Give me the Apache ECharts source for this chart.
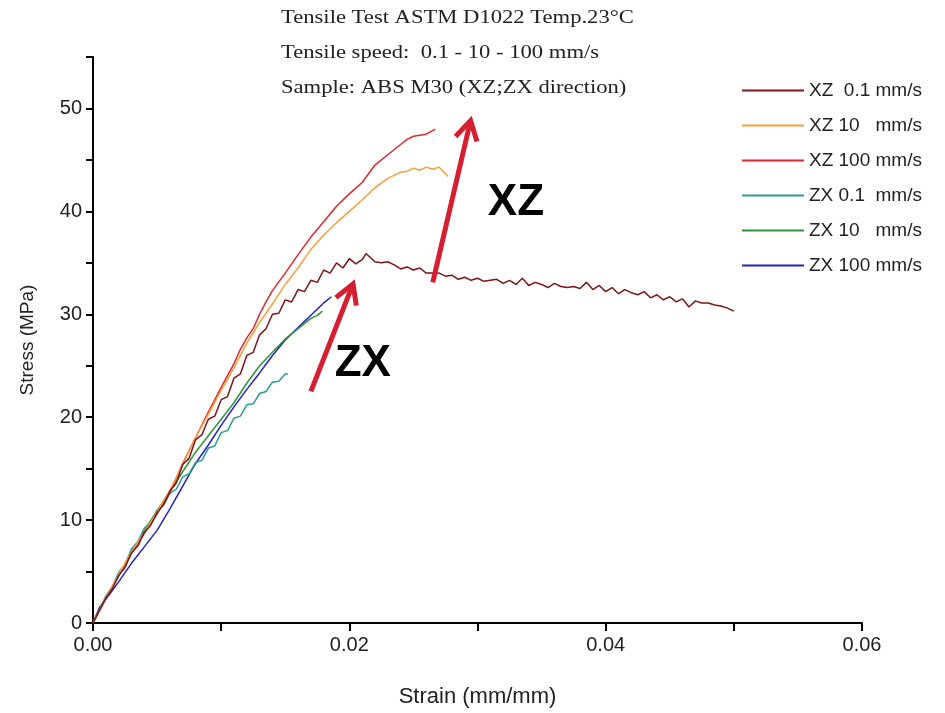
<!DOCTYPE html>
<html>
<head>
<meta charset="utf-8">
<script src="https://cdn.jsdelivr.net/npm/echarts@6/dist/echarts.min.js"></script>
<style>html,body{margin:0;padding:0;background:#fff;overflow:hidden}#c{width:100vw;height:100vh}</style>
</head>
<body>
<div id="c"></div>
<script>
const titleLines = ['Tensile Test ASTM D1022 Temp.23°C', 'Tensile speed:  0.1 - 10 - 100 mm/s', 'Sample: ABS M30 (XZ;ZX direction)'];
const seriesNames = ['XZ  0.1 mm/s', 'XZ 10   mm/s', 'XZ 100 mm/s', 'ZX 0.1  mm/s', 'ZX 10   mm/s', 'ZX 100 mm/s'];
const seriesColors = ['#7D1518', '#F5A03A', '#E2262B', '#2A9C94', '#2E9436', '#2222C0'];
const xName = 'Strain (mm/mm)';
const yName = 'Stress (MPa)';

const xz01 = [
[0,0],[0.0005,1.2],[0.001,2.4],[0.0015,3.3],[0.002,4.6],[0.0025,5.4],[0.003,6.8],[0.0035,7.5],[0.004,8.8],[0.0045,9.5],
[0.005,10.7],[0.0055,11.5],[0.006,12.8],[0.0065,13.6],[0.007,15.4],[0.0075,16.0],[0.008,17.8],[0.0085,18.3],[0.009,19.8],[0.0095,20.1],
[0.010,21.7],[0.0105,22.0],[0.011,23.8],[0.0115,24.2],[0.012,26.0],[0.0125,26.3],[0.013,28.0],[0.0135,28.6],[0.014,30.0],[0.0145,30.1],
[0.015,31.4],[0.0155,31.2],[0.016,32.4],[0.0165,32.2],[0.017,33.3],[0.0175,33.1],[0.018,34.3],[0.0185,34.0],[0.019,35.0],[0.0195,34.5],
[0.020,35.4],[0.0205,34.9],[0.021,35.3],[0.0213,35.9],[0.022,35.1],[0.0225,35.0],[0.023,35.1],[0.0235,34.8],[0.024,34.4],[0.0245,34.6],
[0.025,34.3],[0.0255,34.5],[0.026,34.0],[0.027,34.0],[0.0275,33.7],[0.028,33.8],[0.0285,33.4],[0.029,33.6],[0.0295,33.3],[0.030,33.5],
[0.0305,33.2],[0.031,33.3],[0.0315,33.4],[0.032,33.0],[0.0325,33.3],[0.033,32.9],[0.0335,33.5],[0.034,32.8],[0.0345,33.1],[0.035,32.9],
[0.0355,32.6],[0.036,33.0],[0.0365,32.7],[0.037,32.6],[0.0375,32.7],[0.038,32.5],[0.0385,33.1],[0.039,32.4],[0.0395,32.8],[0.040,32.2],
[0.0405,32.6],[0.041,32.0],[0.0415,32.4],[0.042,32.1],[0.0425,31.9],[0.043,32.2],[0.0435,31.6],[0.044,31.9],[0.0445,31.4],[0.045,31.7],
[0.0455,31.2],[0.046,31.5],[0.0465,30.7],[0.047,31.3],[0.0475,31.1],[0.048,31.1],[0.0485,30.9],[0.049,30.8],[0.0495,30.6],[0.050,30.3]
];
const xz10 = [
[0,0],[0.001,2.4],[0.002,4.7],[0.003,6.9],[0.004,8.8],[0.005,10.8],[0.006,12.9],[0.007,15.4],[0.008,18.0],[0.009,20.3],
[0.010,22.6],[0.011,24.8],[0.012,27.2],[0.013,29.2],[0.014,31.0],[0.015,32.9],[0.016,34.5],[0.017,36.3],[0.018,37.7],[0.019,38.9],
[0.020,40.0],[0.021,41.1],[0.022,42.3],[0.023,43.2],[0.024,43.8],[0.0245,43.9],[0.025,44.2],[0.0255,44.0],[0.026,44.3],[0.0265,44.1],
[0.027,44.3],[0.0273,43.9],[0.0277,43.4]
];
const xz100 = [
[0,0],[0.001,2.4],[0.002,4.6],[0.003,6.8],[0.004,8.7],[0.005,10.6],[0.006,12.7],[0.007,15.5],[0.008,18.0],[0.009,20.5],
[0.010,22.9],[0.011,25.2],[0.0115,26.6],[0.012,27.7],[0.0125,28.6],[0.013,30.0],[0.0135,31.2],[0.014,32.3],[0.015,34.0],[0.016,35.8],
[0.017,37.5],[0.018,39.0],[0.019,40.5],[0.020,41.7],[0.021,42.8],[0.022,44.5],[0.023,45.5],[0.024,46.5],[0.0245,47.0],[0.025,47.3],
[0.0255,47.4],[0.026,47.5],[0.0267,48.0]
];
const zx01 = [
[0,0],[0.0005,1.3],[0.001,2.6],[0.0015,3.5],[0.002,4.9],[0.0025,5.7],[0.003,7.2],[0.0035,7.9],[0.004,9.2],[0.0045,9.8],
[0.005,11.0],[0.0055,11.4],[0.006,12.6],[0.0065,13.0],[0.007,14.2],[0.0075,14.5],[0.008,15.6],[0.0085,15.8],[0.009,17.0],[0.0095,17.2],
[0.010,18.5],[0.0105,18.7],[0.011,19.9],[0.0115,20.1],[0.012,21.2],[0.0125,21.3],[0.013,22.3],[0.0135,22.5],[0.014,23.4],[0.0145,23.5],
[0.015,24.2],[0.0152,24.2]
];
const zx10 = [
[0,0],[0.001,2.5],[0.002,4.6],[0.003,6.8],[0.004,9.0],[0.005,10.9],[0.006,12.8],[0.007,14.7],[0.008,16.6],[0.009,18.2],
[0.010,19.8],[0.011,21.4],[0.012,23.3],[0.013,25.0],[0.014,26.3],[0.015,27.6],[0.016,28.6],[0.017,29.6],[0.0175,29.9],[0.0179,30.3]
];
const zx100 = [
[0,0],[0.0005,1.5],[0.001,2.3],[0.002,4.0],[0.003,5.8],[0.004,7.4],[0.005,9.0],[0.006,11.1],[0.007,13.3],[0.008,15.5],
[0.009,17.3],[0.010,19.2],[0.011,21.0],[0.012,22.7],[0.013,24.3],[0.014,26.0],[0.015,27.5],[0.016,28.7],[0.017,29.9],[0.018,31.1],
[0.0186,31.7]
];
const seriesData = [xz01, xz10, xz100, zx01, zx10, zx100];

// annotation arrows [x tail, y tail, x tip, y tip] and text labels (data coords)
const arrows = [[0.0170, 22.5, 0.02043, 33.4], [0.02651, 33.1, 0.02955, 49.3]];
const labels = [['XZ', 0.0330, 40.8], ['ZX', 0.02105, 25.2]];

const chart = echarts.init(document.getElementById('c'), null, {renderer: 'canvas'});
const font = 'Liberation Sans, Arial, sans-serif';
const serif = '"Liberation Serif", "Times New Roman", serif';
const arrowColor = '#D51F31';

const series = seriesNames.map((n, i) => ({
  name: n, type: 'line', data: seriesData[i], symbol: 'none', showSymbol: false,
  lineStyle: {color: seriesColors[i], width: 1.5}, itemStyle: {color: seriesColors[i]},
  z: 3 + (5 - i), animation: false
}));
series.push({
  name: 'arrows', type: 'custom', data: arrows, encode: {x: [0, 2], y: [1, 3]},
  silent: true, animation: false, z: 10,
  renderItem: (params, api) => {
    const p1 = api.coord([api.value(0), api.value(1)]);
    const p2 = api.coord([api.value(2), api.value(3)]);
    const dx = p2[0] - p1[0], dy = p2[1] - p1[1], L = Math.hypot(dx, dy);
    const ux = dx / L, uy = dy / L, px = -uy, py = ux;
    const t = [p2[0] - ux * 5, p2[1] - uy * 5];
    const back = 19, half = 11;
    const a = [t[0] - ux * back + px * half, t[1] - uy * back + py * half];
    const b = [t[0] - ux * back - px * half, t[1] - uy * back - py * half];
    return {type: 'group', children: [
      {type: 'line', shape: {x1: p1[0], y1: p1[1], x2: t[0], y2: t[1]}, style: {stroke: arrowColor, lineWidth: 5}},
      {type: 'polyline', shape: {points: [a, t, b]}, style: {stroke: arrowColor, lineWidth: 5, fill: null, lineJoin: 'miter'}}
    ]};
  }
});
series.push({
  name: 'labels', type: 'custom', data: labels.map(l => [l[1], l[2], l[0]]), encode: {x: 0, y: 1},
  silent: true, animation: false, z: 11,
  renderItem: (params, api) => {
    const p = api.coord([api.value(0), api.value(1)]);
    return {type: 'text', x: p[0], y: p[1], style: {text: labels[params.dataIndex][0], font: 'bold 44px ' + font, fill: '#000', align: 'center', verticalAlign: 'middle'}};
  }
});

chart.setOption({
  animation: false,
  backgroundColor: '#fff',
  graphic: titleLines.map((t, i) => ({
    type: 'text', x: 281, y: 18 + 35 * i, scaleX: 1.19, silent: true,
    style: {text: t, font: '19px ' + serif, fill: '#222', align: 'left', verticalAlign: 'middle'}
  })),
  legend: {
    data: seriesNames, orient: 'vertical', left: 741, top: 81, padding: 0,
    itemWidth: 62, itemHeight: 14, itemGap: 16,
    itemStyle: {opacity: 0},
    textStyle: {fontFamily: font, fontSize: 19, color: '#222'}
  },
  grid: {left: 93, right: 83, top: 57, bottom: 84, containLabel: false},
  xAxis: {
    type: 'value', min: 0, max: 0.06, interval: 0.01,
    name: xName, nameLocation: 'middle', nameGap: 63,
    nameTextStyle: {fontFamily: font, fontSize: 22, color: '#222'},
    axisLine: {onZero: false, lineStyle: {color: '#000', width: 2}},
    axisTick: {show: true, inside: false, length: 8, lineStyle: {color: '#000', width: 2}},
    axisLabel: {fontFamily: font, fontSize: 20, color: '#222', margin: 12,
      formatter: v => (Math.round(v * 100) % 2 === 0 ? v.toFixed(2) : '')},
    splitLine: {show: false}
  },
  yAxis: {
    type: 'value', min: 0, max: 55, interval: 5,
    name: yName, nameLocation: 'middle', nameGap: 56,
    nameTextStyle: {fontFamily: font, fontSize: 19, color: '#222'},
    axisLine: {onZero: false, lineStyle: {color: '#000', width: 2}},
    axisTick: {show: true, inside: false, length: 7, lineStyle: {color: '#000', width: 2}},
    axisLabel: {fontFamily: font, fontSize: 20, color: '#222', margin: 11,
      formatter: v => (Math.round(v) % 10 === 0 ? String(Math.round(v)) : '')},
    splitLine: {show: false}
  },
  series: series
});
</script>
</body>
</html>
